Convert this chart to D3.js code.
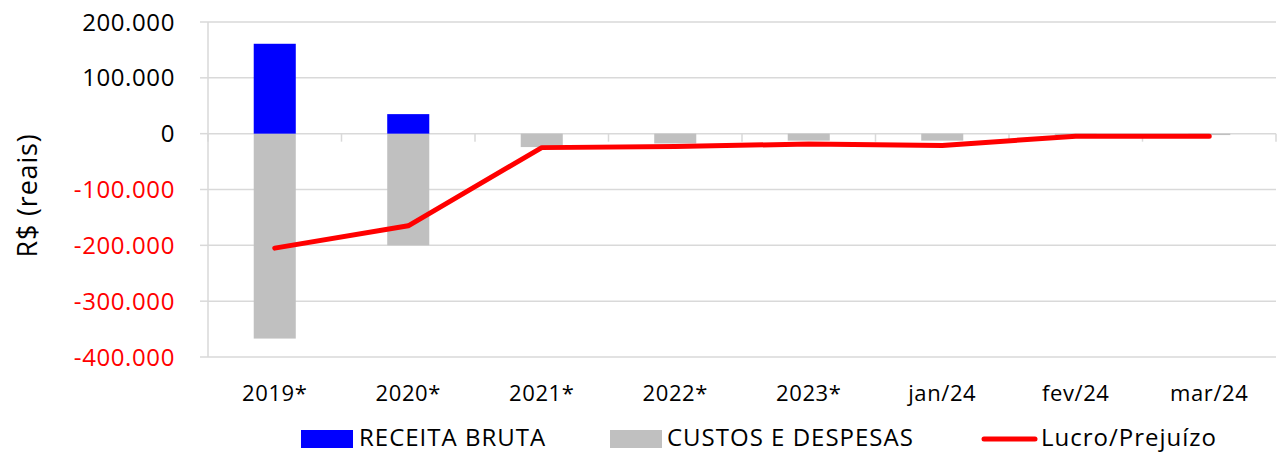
<!DOCTYPE html>
<html>
<head>
<meta charset="utf-8">
<script src="https://cdn.jsdelivr.net/npm/d3@7"></script>
<style>
  body { margin: 0; background: #fff; }
  svg { display: block; font-family: "Open Sans", sans-serif; }
  .grid line { stroke: #d9d9d9; stroke-width: 1.5; }
</style>
</head>
<body>
<script>
//chart data
var categories = ["2019*", "2020*", "2021*", "2022*", "2023*", "jan/24", "fev/24", "mar/24"];
var receita = [161000, 35000, 0, 0, 0, 0, 0, 0];          //RECEITA BRUTA
var custos = [-367000, -200000, -24000, -17500, -12500, -12500, -2500, -2500]; //CUSTOS E DESPESAS
var lucro = [-205000, -165000, -25000, -23000, -18500, -21000, -4500, -4500];  //Lucro/Prejuízo
var yTicks = [200000, 100000, 0, -100000, -200000, -300000, -400000];
var legendNames = ["RECEITA BRUTA", "CUSTOS E DESPESAS", "Lucro/Prejuízo"];

(function(){
  var W = 1281, H = 454;
  var left = 208, right = 1276, top = 22, bottom = 357;

  var svg = d3.select("body").append("svg")
    .attr("width", W)
    .attr("height", H);

  var x = d3.scaleBand()
    .domain(categories)
    .range([left, right])
    .paddingInner(0.685)
    .paddingOuter(0.685 / 2);

  var y = d3.scaleLinear()
    .domain([-400000, 200000])
    .range([bottom, top]);

  //pt-BR style thousands: 200.000
  function fmt(v) {
    return d3.format(",")(v).replace(/,/g, ".").replace("−", "-");
  }

  //horizontal gridlines
  svg.append("g").attr("class", "grid")
    .selectAll("line")
    .data(yTicks)
    .enter().append("line")
    .attr("x1", left).attr("x2", right)
    .attr("y1", function(d){ return y(d); })
    .attr("y2", function(d){ return y(d); });

  //y axis line + outside ticks
  var yAxis = svg.append("g").attr("class", "grid");
  yAxis.append("line")
    .attr("x1", left).attr("x2", left)
    .attr("y1", y(200000)).attr("y2", y(-400000));
  yAxis.selectAll(".tk").data(yTicks).enter().append("line")
    .attr("x1", left - 8).attr("x2", left)
    .attr("y1", function(d){ return y(d); })
    .attr("y2", function(d){ return y(d); });

  //y tick labels (negatives in red)
  svg.append("g").selectAll("text")
    .data(yTicks)
    .enter().append("text")
    .attr("x", left - 33)
    .attr("y", function(d){ return y(d); })
    .attr("dy", "0.36em")
    .attr("text-anchor", "end")
    .style("font-size", "24px")
    .style("letter-spacing", "0.6px")
    .style("fill", function(d){ return d < 0 ? "#ff0000" : "#000"; })
    .text(function(d){ return fmt(d); });

  //y axis title
  svg.append("text")
    .attr("transform", "translate(37," + ((top + bottom) / 2 + 6) + ") rotate(-90)")
    .attr("text-anchor", "middle")
    .style("font-size", "27px")
    .style("letter-spacing", "0.8px")
    .text("R$ (reais)");

  //bars
  svg.append("g").selectAll("rect")
    .data(custos)
    .enter().append("rect")
    .attr("x", function(d, i){ return x(categories[i]); })
    .attr("width", x.bandwidth())
    .attr("y", y(0))
    .attr("height", function(d){ return y(d) - y(0); })
    .attr("fill", "#c0c0c0");

  svg.append("g").selectAll("rect")
    .data(receita)
    .enter().append("rect")
    .attr("x", function(d, i){ return x(categories[i]); })
    .attr("width", x.bandwidth())
    .attr("y", function(d){ return y(d); })
    .attr("height", function(d){ return y(0) - y(d); })
    .attr("fill", "#0000ff");

  //category axis at zero, ticks at band boundaries
  var step = x.step();
  var bounds = d3.range(categories.length + 1).map(function(i){ return left + i * step; });
  svg.append("g").attr("class", "grid")
    .selectAll("line")
    .data(bounds)
    .enter().append("line")
    .attr("x1", function(d){ return d; })
    .attr("x2", function(d){ return d; })
    .attr("y1", y(0))
    .attr("y2", y(0) + 8);

  //profit line
  var line = d3.line()
    .x(function(d, i){ return x(categories[i]) + x.bandwidth() / 2; })
    .y(function(d){ return y(d); });

  svg.append("path")
    .datum(lucro)
    .attr("d", line)
    .attr("fill", "none")
    .attr("stroke", "#ff0000")
    .attr("stroke-width", 5)
    .attr("stroke-linecap", "round")
    .attr("stroke-linejoin", "round");

  //x labels
  svg.append("g").selectAll("text")
    .data(categories)
    .enter().append("text")
    .attr("x", function(d){ return x(d) + x.bandwidth() / 2; })
    .attr("y", 401)
    .attr("text-anchor", "middle")
    .style("font-size", "22px")
    .style("letter-spacing", "0.6px")
    .text(function(d){ return d; });

  //legend
  var lg = svg.append("g").style("font-size", "24px").style("letter-spacing", "1px");
  lg.append("rect").attr("x", 301).attr("y", 430).attr("width", 52).attr("height", 18).attr("fill", "#0000ff");
  lg.append("text").attr("x", 359).attr("y", 446).text(legendNames[0]);
  lg.append("rect").attr("x", 610).attr("y", 430).attr("width", 52).attr("height", 18).attr("fill", "#c0c0c0");
  lg.append("text").attr("x", 667).attr("y", 446).text(legendNames[1]);
  lg.append("line").attr("x1", 984).attr("x2", 1035).attr("y1", 439).attr("y2", 439)
    .attr("stroke", "#ff0000").attr("stroke-width", 5).attr("stroke-linecap", "round");
  lg.append("text").attr("x", 1041).attr("y", 446).text(legendNames[2]);
})();
</script>
</body>
</html>
